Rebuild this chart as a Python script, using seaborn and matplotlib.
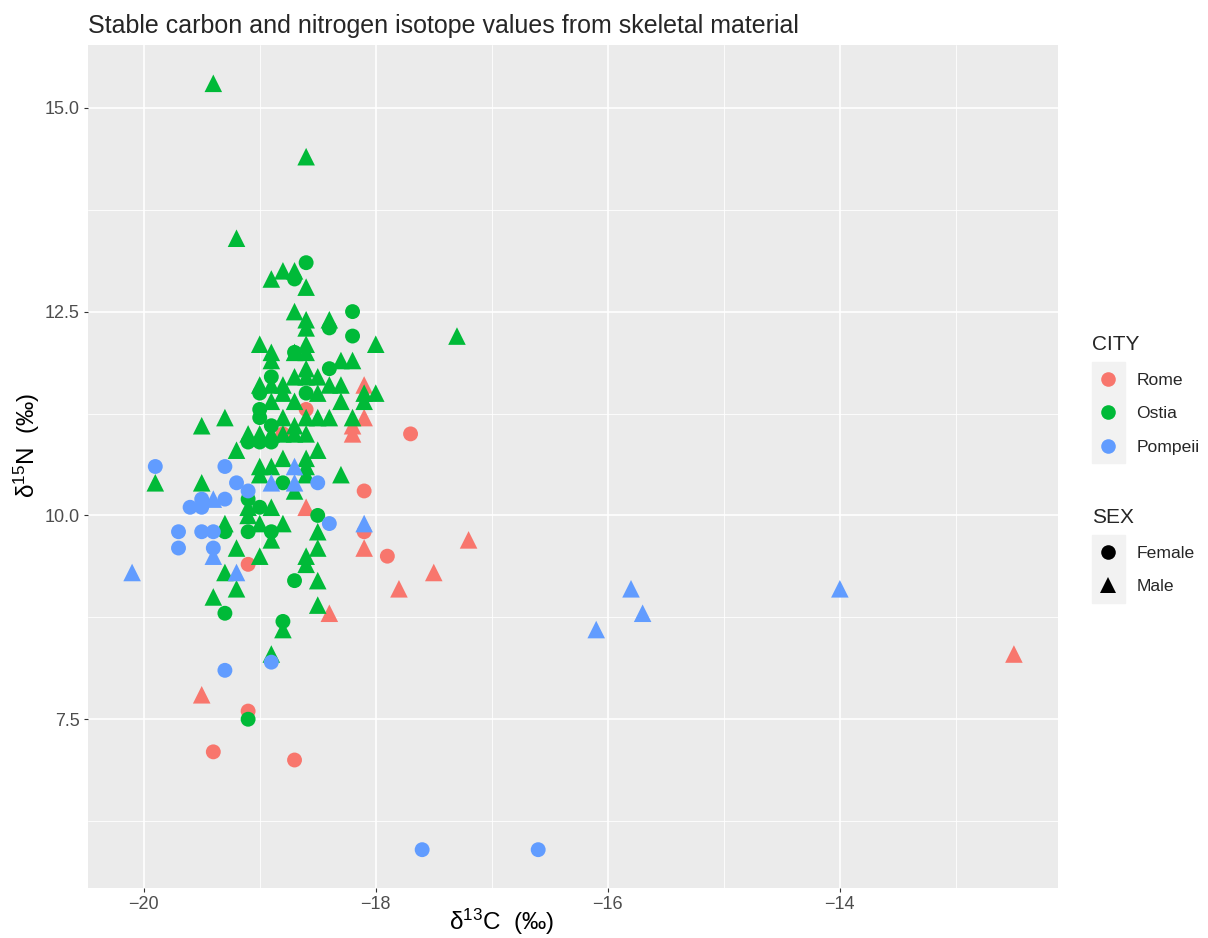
import pandas as pd
import numpy as np
import matplotlib
matplotlib.use("Agg")
import matplotlib.pyplot as plt
import seaborn as sns
from matplotlib.lines import Line2D
from matplotlib.patches import Rectangle
from matplotlib.ticker import FixedLocator

# values (d13C, d15N), per city and sex
rome_f_c13 = [-18.6, -18.8, -17.7, -18.1, -18.1, -17.9, -19.1, -19.1, -19.4, -18.7]
rome_f_n15 = [11.3, 11.0, 11.0, 10.3, 9.8, 9.5, 9.4, 7.6, 7.1, 7.0]
rome_m_c13 = [-18.1, -18.1, -18.2, -18.2, -18.6, -18.1, -17.2, -17.5, -17.8, -18.4, -19.5, -12.5]
rome_m_n15 = [11.6, 11.2, 11.1, 11.0, 10.1, 9.6, 9.7, 9.3, 9.1, 8.8, 7.8, 8.3]

ostia_f_c13 = [-18.6, -18.7, -18.4, -18.2, -18.2, -18.4, -18.7, -18.9, -19.0, -19.0,
               -18.9, -19.1, -19.0, -18.9, -18.8, -19.1, -19.0, -18.5, -19.1, -18.9,
               -19.3, -18.7, -19.3, -18.8, -19.1, -19.0, -18.6]
ostia_f_n15 = [13.1, 12.9, 12.3, 12.5, 12.2, 11.8, 12.0, 11.7, 11.3, 11.2,
               11.1, 10.9, 10.9, 10.9, 10.4, 10.2, 10.1, 10.0, 9.8, 9.8,
               9.8, 9.2, 8.8, 8.7, 7.5, 11.5, 11.5]
ostia_m_c13 = [-19.4, -18.6, -19.2, -18.9, -18.8, -18.7, -18.6, -18.7, -18.6, -18.6,
               -18.4, -18.0, -17.3, -19.0, -18.9, -18.9, -18.7, -18.6, -18.6, -18.3,
               -18.2, -19.0, -18.7, -18.6, -18.6, -18.5, -18.4, -18.3, -18.3, -18.1,
               -18.1, -18.0, -18.8, -18.5, -18.7, -18.9, -19.0, -18.9, -18.8, -18.7,
               -18.6, -18.8, -18.7, -18.6, -18.5, -18.4, -18.2, -19.5, -19.3, -19.2,
               -18.5, -18.6, -18.8, -18.9, -19.0, -19.0, -18.6, -18.6, -18.7, -18.3,
               -19.9, -19.5, -19.1, -19.1, -18.9, -19.3, -19.0, -18.8, -18.9, -18.5,
               -18.5, -19.2, -19.0, -18.6, -18.6, -19.3, -19.2, -19.4, -18.5, -18.5,
               -18.8, -18.9, -19.1, -18.9, -18.8]
ostia_m_n15 = [15.3, 14.4, 13.4, 12.9, 13.0, 13.0, 12.8, 12.5, 12.4, 12.3,
               12.4, 12.1, 12.2, 12.1, 12.0, 11.9, 12.0, 12.1, 12.0, 11.9,
               11.9, 11.6, 11.7, 11.8, 11.7, 11.7, 11.6, 11.6, 11.4, 11.5,
               11.4, 11.5, 11.5, 11.5, 11.4, 11.4, 11.0, 11.0, 11.0, 11.0,
               11.0, 11.2, 11.1, 11.2, 11.2, 11.2, 11.2, 11.1, 11.2, 10.8,
               10.8, 10.7, 10.7, 10.6, 10.6, 10.5, 10.6, 10.5, 10.3, 10.5,
               10.4, 10.4, 10.1, 10.0, 10.1, 9.9, 9.9, 9.9, 9.7, 9.8,
               9.6, 9.6, 9.5, 9.5, 9.4, 9.3, 9.1, 9.0, 9.2, 8.9,
               8.6, 8.3, 11.0, 11.6, 11.6]

pompeii_f_c13 = [-19.9, -19.3, -19.2, -19.1, -19.6, -19.5, -19.5, -19.3, -19.7, -19.7,
                 -19.5, -19.4, -19.4, -18.5, -18.4, -18.9, -19.3, -17.6, -16.6]
pompeii_f_n15 = [10.6, 10.6, 10.4, 10.3, 10.1, 10.1, 10.2, 10.2, 9.8, 9.6,
                 9.8, 9.8, 9.6, 10.4, 9.9, 8.2, 8.1, 5.9, 5.9]
pompeii_m_c13 = [-20.1, -19.4, -19.4, -19.2, -18.9, -18.7, -18.7, -18.1, -16.1, -15.8, -15.7, -14.0]
pompeii_m_n15 = [9.3, 10.2, 9.5, 9.3, 10.4, 10.6, 10.4, 9.9, 8.6, 9.1, 8.8, 9.1]

cities = ["Rome", "Ostia", "Pompeii"]
sexes = ["Female", "Male"]
city_colors = ["#F8766D", "#00BA38", "#619CFF"]

groups = [
    ("Rome", "Female", rome_f_c13, rome_f_n15),
    ("Rome", "Male", rome_m_c13, rome_m_n15),
    ("Ostia", "Female", ostia_f_c13, ostia_f_n15),
    ("Ostia", "Male", ostia_m_c13, ostia_m_n15),
    ("Pompeii", "Female", pompeii_f_c13, pompeii_f_n15),
    ("Pompeii", "Male", pompeii_m_c13, pompeii_m_n15),
]
df = pd.concat([pd.DataFrame({"CITY": c, "SEX": s, "d13C": x, "d15N": y})
                for c, s, x, y in groups], ignore_index=True)

sns.set_style("darkgrid")
plt.rcParams["font.family"] = ["Liberation Sans", "DejaVu Sans"]
plt.rcParams["mathtext.fontset"] = "custom"
plt.rcParams["mathtext.rm"] = "Liberation Sans"
plt.rcParams["mathtext.it"] = "Liberation Sans:italic"

fig = plt.figure(figsize=(12.08, 9.38), dpi=100)
ax = fig.add_axes([88/1208, 1-888/938, (1058-88)/1208, (888-45)/938])
ax.set_facecolor("#EBEBEB")

sns.scatterplot(data=df, x="d13C", y="d15N", hue="CITY", style="SEX", size="SEX",
                hue_order=cities, palette=city_colors,
                markers={"Female": "o", "Male": "^"},
                sizes={"Female": 115, "Male": 160}, linewidth=0,
                legend=False, ax=ax, zorder=3)

ax.set_xlim(-20.48, -12.12)
ax.set_ylim(5.43, 15.77)
ax.xaxis.set_major_locator(FixedLocator([-20, -18, -16, -14]))
ax.xaxis.set_minor_locator(FixedLocator([-19, -17, -15, -13]))
ax.yaxis.set_major_locator(FixedLocator([7.5, 10.0, 12.5, 15.0]))
ax.yaxis.set_minor_locator(FixedLocator([6.25, 8.75, 11.25, 13.75]))
ax.set_yticklabels(["7.5", "10.0", "12.5", "15.0"])
ax.grid(which="major", color="white", linewidth=1.2)
ax.grid(which="minor", color="white", linewidth=0.6)
ax.set_axisbelow(True)
for sp in ax.spines.values():
    sp.set_visible(False)
ax.tick_params(which="major", length=3, width=0.8, color="#333333",
               labelsize=13, labelcolor="#4D4D4D", pad=3, bottom=True, left=True)
ax.tick_params(which="minor", length=0)

ax.set_xlabel(r"δ$^{13}$C  (‰)", fontsize=17.5, color="black")
ax.set_ylabel(r"δ$^{15}$N  (‰)", fontsize=17.5, color="black")
ax.xaxis.set_label_coords((502-88)/970, -0.022)
ax.yaxis.set_label_coords(-0.047, 0.525)
ax.set_title("Stable carbon and nitrogen isotope values from skeletal material",
             loc="left", fontsize=18, pad=9)

# legends in ggplot style
city_handles = [Line2D([], [], marker="o", linestyle="", markersize=10.5,
                       markerfacecolor=c, markeredgewidth=0, label=n)
                for n, c in zip(cities, city_colors)]
sex_handles = [Line2D([], [], marker=m, linestyle="", markersize=s,
                      markerfacecolor="black", markeredgewidth=0, label=n)
               for n, m, s in zip(sexes, ["o", "^"], [10.5, 12])]

fig.patches.append(Rectangle((1092/1208, 1-463/938), 33/1208, 101/938,
                             transform=fig.transFigure, color="#F2F2F2", zorder=0))
fig.patches.append(Rectangle((1092/1208, 1-603/938), 33/1208, 68/938,
                             transform=fig.transFigure, color="#F2F2F2", zorder=0))

common = dict(loc="upper left", frameon=False, alignment="left", fontsize=12.6,
              title_fontsize=15, handletextpad=0.7, labelspacing=1.05,
              borderaxespad=0, borderpad=0, handlelength=1.83)
leg1 = fig.legend(handles=city_handles, title="CITY",
                  bbox_to_anchor=(1092/1208, 1-335/938), **common)
leg2 = fig.legend(handles=sex_handles, title="SEX",
                  bbox_to_anchor=(1092/1208, 1-508/938), **common)

fig.savefig("out.png", dpi=100, facecolor="white")
